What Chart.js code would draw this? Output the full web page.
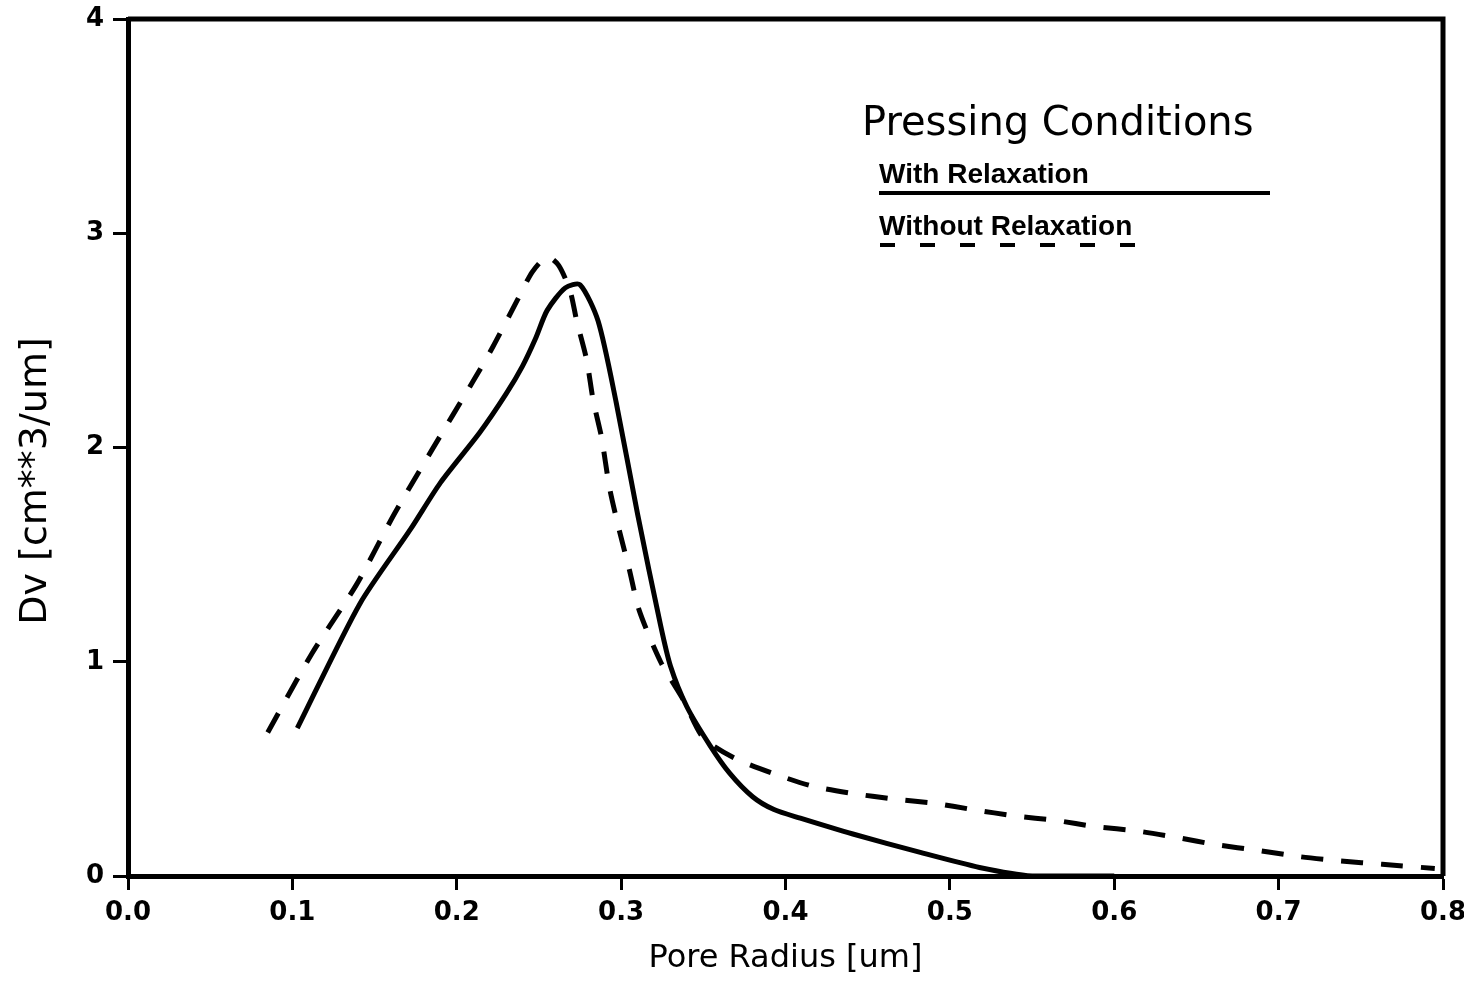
<!DOCTYPE html>
<html>
<head>
<meta charset="utf-8">
<title>Pore radius distribution</title>
<script src="https://cdn.jsdelivr.net/npm/chart.js@4"></script>
<style>
  body { margin: 0; background: #fff; }
  #wrap { width: 1464px; height: 983px; }
</style>
</head>
<body>
<div id="wrap"><canvas id="chart" width="1464" height="983"></canvas></div>
<script>
// values
const xTicks = [0.0, 0.1, 0.2, 0.3, 0.4, 0.5, 0.6, 0.7, 0.8];
const yTicks = [0, 1, 2, 3, 4];

const withX = [0.103, 0.141, 0.172, 0.190, 0.214, 0.230, 0.240, 0.248, 0.255, 0.266, 0.275, 0.286, 0.297, 0.310, 0.324, 0.330, 0.340, 0.354, 0.366, 0.380, 0.393, 0.409, 0.441, 0.482, 0.518, 0.550, 0.600];
const withY = [0.69, 1.27, 1.62, 1.835, 2.07, 2.25, 2.38, 2.51, 2.64, 2.745, 2.76, 2.59, 2.21, 1.69, 1.17, 0.98, 0.79, 0.61, 0.48, 0.37, 0.31, 0.27, 0.196, 0.11, 0.04, 0.0, 0.0];

const withoutX = [0.085, 0.112, 0.139, 0.162, 0.185, 0.210, 0.222, 0.237, 0.246, 0.255, 0.262, 0.269, 0.273, 0.279, 0.283, 0.288, 0.293, 0.299, 0.305, 0.311, 0.324, 0.338, 0.350, 0.369, 0.392, 0.416, 0.441, 0.465, 0.490, 0.514, 0.540, 0.564, 0.589, 0.614, 0.638, 0.663, 0.687, 0.713, 0.738, 0.763, 0.795];
const withoutY = [0.67, 1.04, 1.36, 1.69, 1.99, 2.31, 2.47, 2.69, 2.82, 2.89, 2.85, 2.73, 2.59, 2.41, 2.22, 2.05, 1.81, 1.61, 1.43, 1.24, 1.00, 0.82, 0.645, 0.55, 0.48, 0.42, 0.385, 0.36, 0.34, 0.31, 0.28, 0.26, 0.23, 0.21, 0.18, 0.145, 0.12, 0.09, 0.07, 0.055, 0.035];

const toPoints = (xs, ys) => xs.map((x, i) => ({ x: x, y: ys[i] }));

// frame, axis titles and the hand-drawn style legend
const extras = {
    id: "extras",
    afterDraw(chart) {
        const ctx = chart.ctx;
        const a = chart.chartArea;
        ctx.save();
        ctx.strokeStyle = "#000";
        ctx.lineWidth = 5;
        ctx.beginPath();
        ctx.moveTo(a.left, a.top);
        ctx.lineTo(a.right, a.top);
        ctx.lineTo(a.right, a.bottom);
        ctx.stroke();

        ctx.fillStyle = "#000";
        ctx.textAlign = "center";
        ctx.textBaseline = "middle";
        ctx.font = "32px 'DejaVu Sans'";
        ctx.fillText("Pore Radius [um]", (a.left + a.right) / 2, 959);

        ctx.save();
        ctx.translate(36, 481);
        ctx.rotate(-Math.PI / 2);
        ctx.font = "38px 'DejaVu Sans'";
        ctx.fillText("Dv [cm**3/um]", 0, 0);
        ctx.restore();

        ctx.textAlign = "left";
        ctx.textBaseline = "alphabetic";
        ctx.font = "40px 'DejaVu Sans'";
        ctx.fillText("Pressing Conditions", 862, 135);

        ctx.font = "bold 28px 'Liberation Sans'";
        ctx.fillText("With Relaxation", 879, 183);
        ctx.fillText("Without Relaxation", 879, 235);

        ctx.lineWidth = 4;
        ctx.beginPath();
        ctx.moveTo(879, 193);
        ctx.lineTo(1270, 193);
        ctx.stroke();

        ctx.setLineDash([15, 25]);
        ctx.beginPath();
        ctx.moveTo(880, 245);
        ctx.lineTo(1143, 245);
        ctx.stroke();
        ctx.restore();
    }
};

new Chart(document.getElementById("chart"), {
    type: "scatter",
    data: {
        datasets: [{
            label: "With Relaxation",
            data: toPoints(withX, withY),
            showLine: true,
            borderColor: "#000",
            borderWidth: 5,
            pointRadius: 0,
            tension: 0.25
        }, {
            label: "Without Relaxation",
            data: toPoints(withoutX, withoutY),
            showLine: true,
            borderColor: "#000",
            borderWidth: 5,
            borderDash: [22, 18],
            pointRadius: 0,
            tension: 0.25
        }]
    },
    options: {
        responsive: false,
        animation: false,
        layout: { padding: { top: 19, right: 21, left: 0, bottom: 0 } },
        plugins: { legend: { display: false }, tooltip: { enabled: false } },
        scales: {
            x: {
                type: "linear",
                min: 0,
                max: 0.8,
                afterFit: s => { s.height = 107; s.paddingLeft = 0; s.paddingRight = 0; },
                afterBuildTicks: s => { s.ticks = xTicks.map(v => ({ value: v })); },
                ticks: {
                    color: "#000",
                    padding: 8,
                    font: { family: "DejaVu Sans", weight: "bold", size: 26 },
                    callback: v => Number(v).toFixed(1)
                },
                grid: { display: true, drawOnChartArea: false, drawTicks: true, tickLength: 14, tickWidth: 3, tickColor: "#000" },
                border: { display: true, color: "#000", width: 5 }
            },
            y: {
                min: 0,
                max: 4,
                afterFit: s => { s.width = 128; s.paddingTop = 0; s.paddingBottom = 0; },
                afterBuildTicks: s => { s.ticks = yTicks.map(v => ({ value: v })); },
                ticks: {
                    color: "#000",
                    padding: 9,
                    font: { family: "DejaVu Sans", weight: "bold", size: 26 }
                },
                grid: { display: true, drawOnChartArea: false, drawTicks: true, tickLength: 15, tickWidth: 3, tickColor: "#000" },
                border: { display: true, color: "#000", width: 5 }
            }
        }
    },
    plugins: [extras]
});
</script>
</body>
</html>
